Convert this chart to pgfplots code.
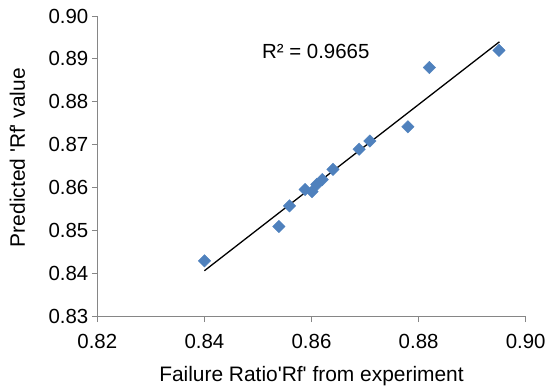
\documentclass[border=0pt]{standalone}
\usepackage{fontspec}
\setmainfont{Liberation Sans}[Ligatures=TeXOff]
\usepackage{pgfplots}
\pgfplotsset{compat=1.18}
\definecolor{ptblue}{HTML}{4F81BD}
\definecolor{axgray}{HTML}{868686}
\begin{document}
\begin{tikzpicture}
\path[use as bounding box] (-97.3bp,-70.3bp) rectangle (450.7bp,316.7bp);
\begin{axis}[
  scale only axis, width=428.4bp, height=300.7bp,
  xmin=0.82, xmax=0.90, ymin=0.83, ymax=0.90,
  xtick={0.82,0.84,0.86,0.88,0.90},
  ytick={0.83,0.84,0.85,0.86,0.87,0.88,0.89,0.90},
  axis x line*=bottom, axis y line*=left,
  axis line style={-, axgray, line width=1bp},
  tick style={axgray, line width=1bp},
  tick align=outside, major tick length=5.5bp,
  xtick pos=bottom, ytick pos=left,
  tick label style={font=\fontsize{20.5}{24}\selectfont, black},
  /pgf/number format/assume math mode=true,
  /pgf/number format/fixed,
  /pgf/number format/fixed zerofill,
  /pgf/number format/precision=2,
  xticklabel style={anchor=base, yshift=-26.7bp, inner sep=0pt},
  scaled x ticks=false, scaled y ticks=false,
  xlabel={Failure Ratio'Rf' from experiment},
  ylabel={Predicted 'Rf' value},
  label style={font=\fontsize{21}{24}\selectfont, black},
  xlabel style={at={(axis description cs:0.5,0)}, anchor=base, yshift=-65bp, inner sep=0pt},
  ylabel style={at={(axis description cs:-0.16877,0.529)}, anchor=base, inner sep=0pt},
  clip=false,
]
\addplot[only marks, mark=square*, mark size=4.4bp,
  mark options={rotate=45, fill=ptblue, draw=ptblue}] coordinates {
  (0.8400,0.8430)
  (0.8539,0.8510)
  (0.8559,0.8558)
  (0.8588,0.8596)
  (0.8601,0.8591)
  (0.8610,0.8608)
  (0.8620,0.8619)
  (0.8640,0.8643)
  (0.8689,0.8690)
  (0.8709,0.8709)
  (0.8780,0.8742)
  (0.8820,0.8880)
  (0.8950,0.8920)
};
\addplot[black, line width=1.3bp] coordinates {(0.8400,0.8407) (0.8951,0.8940)};
\node[font=\fontsize{20.5}{24}\selectfont] at (axis cs:0.8608,0.8917) {R² = 0.9665};
\end{axis}
\end{tikzpicture}
\end{document}
